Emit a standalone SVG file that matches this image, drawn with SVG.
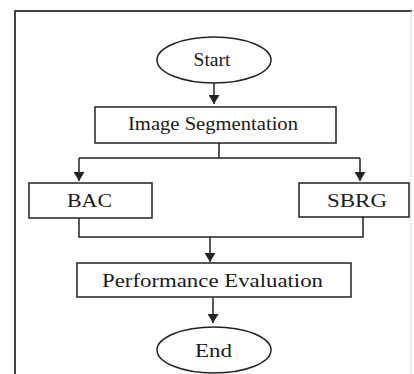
<svg xmlns="http://www.w3.org/2000/svg" width="414" height="374" viewBox="0 0 414 374">
<style>
.box{fill:#fff;stroke:#222;stroke-width:1.5}
.ln{fill:none;stroke:#222;stroke-width:1.5}
.t{font-family:"Liberation Serif","Times New Roman",serif;font-size:19px;fill:#1a1a1a;text-anchor:middle}
</style>
<defs>
<marker id="ah" viewBox="0 0 9 11" refX="9" refY="5.5" markerWidth="9" markerHeight="11" markerUnits="userSpaceOnUse" orient="auto">
<path d="M0,0 L9,5.5 L0,11 Z" fill="#222"/>
</marker>
</defs>
<rect width="414" height="374" fill="#fff"/>
<g id="frame">
<path d="M15,374 V11 H412" fill="none" stroke="#444" stroke-width="2"/>
<path d="M411,11 V374" fill="none" stroke="#ddd" stroke-width="1"/>
</g>
<g id="connectors">
<path class="ln" d="M214,83 V104" marker-end="url(#ah)"/>
<path class="ln" d="M219,143 V158 M79,158 H360"/>
<path class="ln" d="M79,158 V181" marker-end="url(#ah)"/>
<path class="ln" d="M360,158 V181" marker-end="url(#ah)"/>
<path class="ln" d="M79,218 V237 H363 V217"/>
<path class="ln" d="M210,237 V262" marker-end="url(#ah)"/>
<path class="ln" d="M213,298 V323" marker-end="url(#ah)"/>
</g>
<g id="start">
<ellipse class="box" cx="214" cy="60" rx="57" ry="23"/>
<text class="t" x="212" y="66" textLength="37" lengthAdjust="spacingAndGlyphs">Start</text>
</g>
<g id="image-segmentation">
<rect class="box" x="95" y="107" width="241" height="36"/>
<text class="t" x="213" y="130" textLength="170" lengthAdjust="spacingAndGlyphs">Image Segmentation</text>
</g>
<g id="bac">
<rect class="box" x="29" y="183" width="123" height="35"/>
<text class="t" x="89.5" y="207" textLength="45" lengthAdjust="spacingAndGlyphs">BAC</text>
</g>
<g id="sbrg">
<rect class="box" x="299" y="183" width="110" height="34"/>
<text class="t" x="357" y="207" textLength="60" lengthAdjust="spacingAndGlyphs">SBRG</text>
</g>
<g id="performance-evaluation">
<rect class="box" x="77" y="263" width="274" height="34"/>
<text class="t" x="212.5" y="287" textLength="221" lengthAdjust="spacingAndGlyphs">Performance Evaluation</text>
</g>
<g id="end">
<ellipse class="box" cx="214" cy="350" rx="57" ry="23"/>
<text class="t" x="213.5" y="357" textLength="37" lengthAdjust="spacingAndGlyphs">End</text>
</g>
</svg>
